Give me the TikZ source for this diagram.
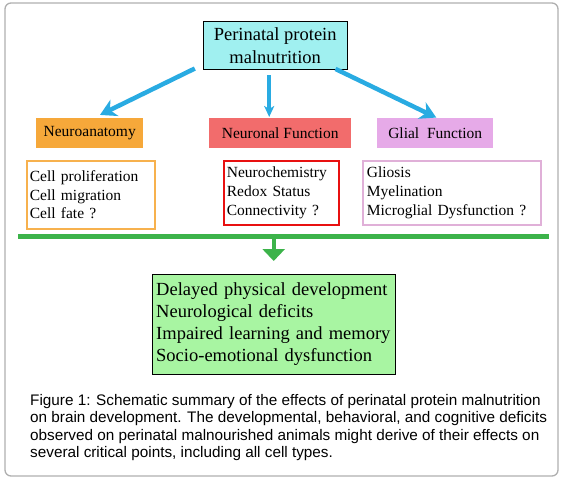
\documentclass[tikz,border=0pt]{standalone}
\usepackage{fontspec}
\setmainfont{Liberation Serif}
\newfontfamily\captionfont{Liberation Sans}
\newfontfamily\boxfont{Liberation Serif}
\usetikzlibrary{arrows.meta}

\definecolor{causecyan}{RGB}{160,240,240}
\definecolor{arrowblue}{RGB}{41,171,226}
\definecolor{anatomyorange}{RGB}{246,168,58}
\definecolor{neuronred}{RGB}{242,108,108}
\definecolor{glialviolet}{RGB}{230,170,232}
\definecolor{glialborder}{RGB}{224,176,216}
\definecolor{lineredge}{RGB}{232,16,16}
\definecolor{bargreen}{RGB}{60,179,74}
\definecolor{outcomegreen}{RGB}{168,245,162}
\definecolor{framegray}{RGB}{175,175,175}

\begin{document}
\begin{tikzpicture}[x=1pt, y=-1pt,
  labelbox/.style={anchor=north west, inner sep=0pt, font=\boxfont\fontsize{15.5}{18}\selectfont},
  listbox/.style={anchor=north west, draw, line width=1.8pt, fill=white, inner xsep=3pt,
    align=left, font=\boxfont\fontsize{15.5}{18.7}\selectfont},
  bluearrow/.style={-{Stealth[length=16pt, width=18pt, inset=5pt]}, line width=4.5pt, arrowblue},
  greenarrow/.style={-{Triangle[length=12pt, width=22pt]}, line width=4pt, bargreen}]

  \useasboundingbox (0,0) rectangle (563,479);

  %% Outer frame
  \draw[framegray, line width=1.3pt, rounded corners=6pt] (5,3) rectangle (558,476);

  %% Top: cause
  \node[anchor=north west, draw, thin, fill=causecyan, minimum width=144pt, minimum height=48pt,
    align=center, inner sep=0pt, font=\boxfont\fontsize{18.5}{23}\selectfont] (cause) at (203,21)
    {Perinatal protein\\malnutrition};

  %% Middle row: three targets
  \node[labelbox, fill=anatomyorange, minimum width=107pt, minimum height=30pt] (anatomy) at (36,118) {Neuroanatomy};
  \node[labelbox, fill=neuronred, minimum width=142pt, minimum height=30pt] (neuronal) at (209,118) {Neuronal Function};
  \node[labelbox, fill=glialviolet, minimum width=116pt, minimum height=30pt] (glial) at (377,118) {Glial~~Function};

  % Lists under each target
  \node[listbox, draw=anatomyorange!90, text width=122pt, minimum height=68pt, inner xsep=3pt] (anatomylist) at (26,160)
    {Cell proliferation\\Cell migration\\Cell fate ?\\[3pt]};
  \node[listbox, draw=lineredge, text width=109pt, minimum height=64pt] (neuronlist) at (223,160)
    {Neurochemistry\\Redox Status\\Connectivity ?};
  \node[listbox, draw=glialborder, text width=170pt, minimum height=64pt, inner xsep=4pt] (gliallist) at (362,160)
    {Gliosis\\Myelination\\Microglial Dysfunction ?};

  % Arrows from the cause
  \draw[bluearrow, shorten <=-2pt, shorten >=7pt] ([xshift=-10pt]cause.south west) -- ([xshift=4pt]anatomy.north);
  \draw[bluearrow, line width=3.5pt, -{Stealth[length=11pt, width=10pt, inset=3pt]}, shorten <=6pt, shorten >=1pt]
    ([xshift=-6pt]cause.south) -- ([xshift=-11pt]neuronal.north);
  \draw[bluearrow, shorten <=-1pt, shorten >=1pt] ([xshift=-11pt]cause.south east) -- ([xshift=2pt]glial.north);

  %% Bottom: outcome
  \coordinate (barleft) at (18,236);
  \coordinate (barright) at (549,236);
  \draw[bargreen, line width=5pt] (barleft) -- (barright);

  \node[anchor=north west, draw, thin, fill=outcomegreen, minimum width=243pt, minimum height=100pt,
    text width=235pt, inner xsep=4pt, align=left, font=\boxfont\fontsize{18.5}{22}\selectfont] (outcome) at (152,274)
    {Delayed physical development\\Neurological deficits\\Impaired learning and memory\\Socio-emotional dysfunction\\[3pt]};

  \draw[greenarrow, shorten >=13pt] (outcome.north |- barright) -- (outcome.north);

  %% Caption
  \node[anchor=north west, inner sep=0pt, align=left, font=\captionfont\fontsize{15.3}{17.5}\selectfont] (caption) at (30,394)
    {Figure 1: Schematic summary of the effects of perinatal protein malnutrition\\
     on brain development. The developmental, behavioral, and cognitive deficits\\
     observed on perinatal malnourished animals might derive of their effects on\\
     several critical points, including all cell types.};

\end{tikzpicture}
\end{document}
